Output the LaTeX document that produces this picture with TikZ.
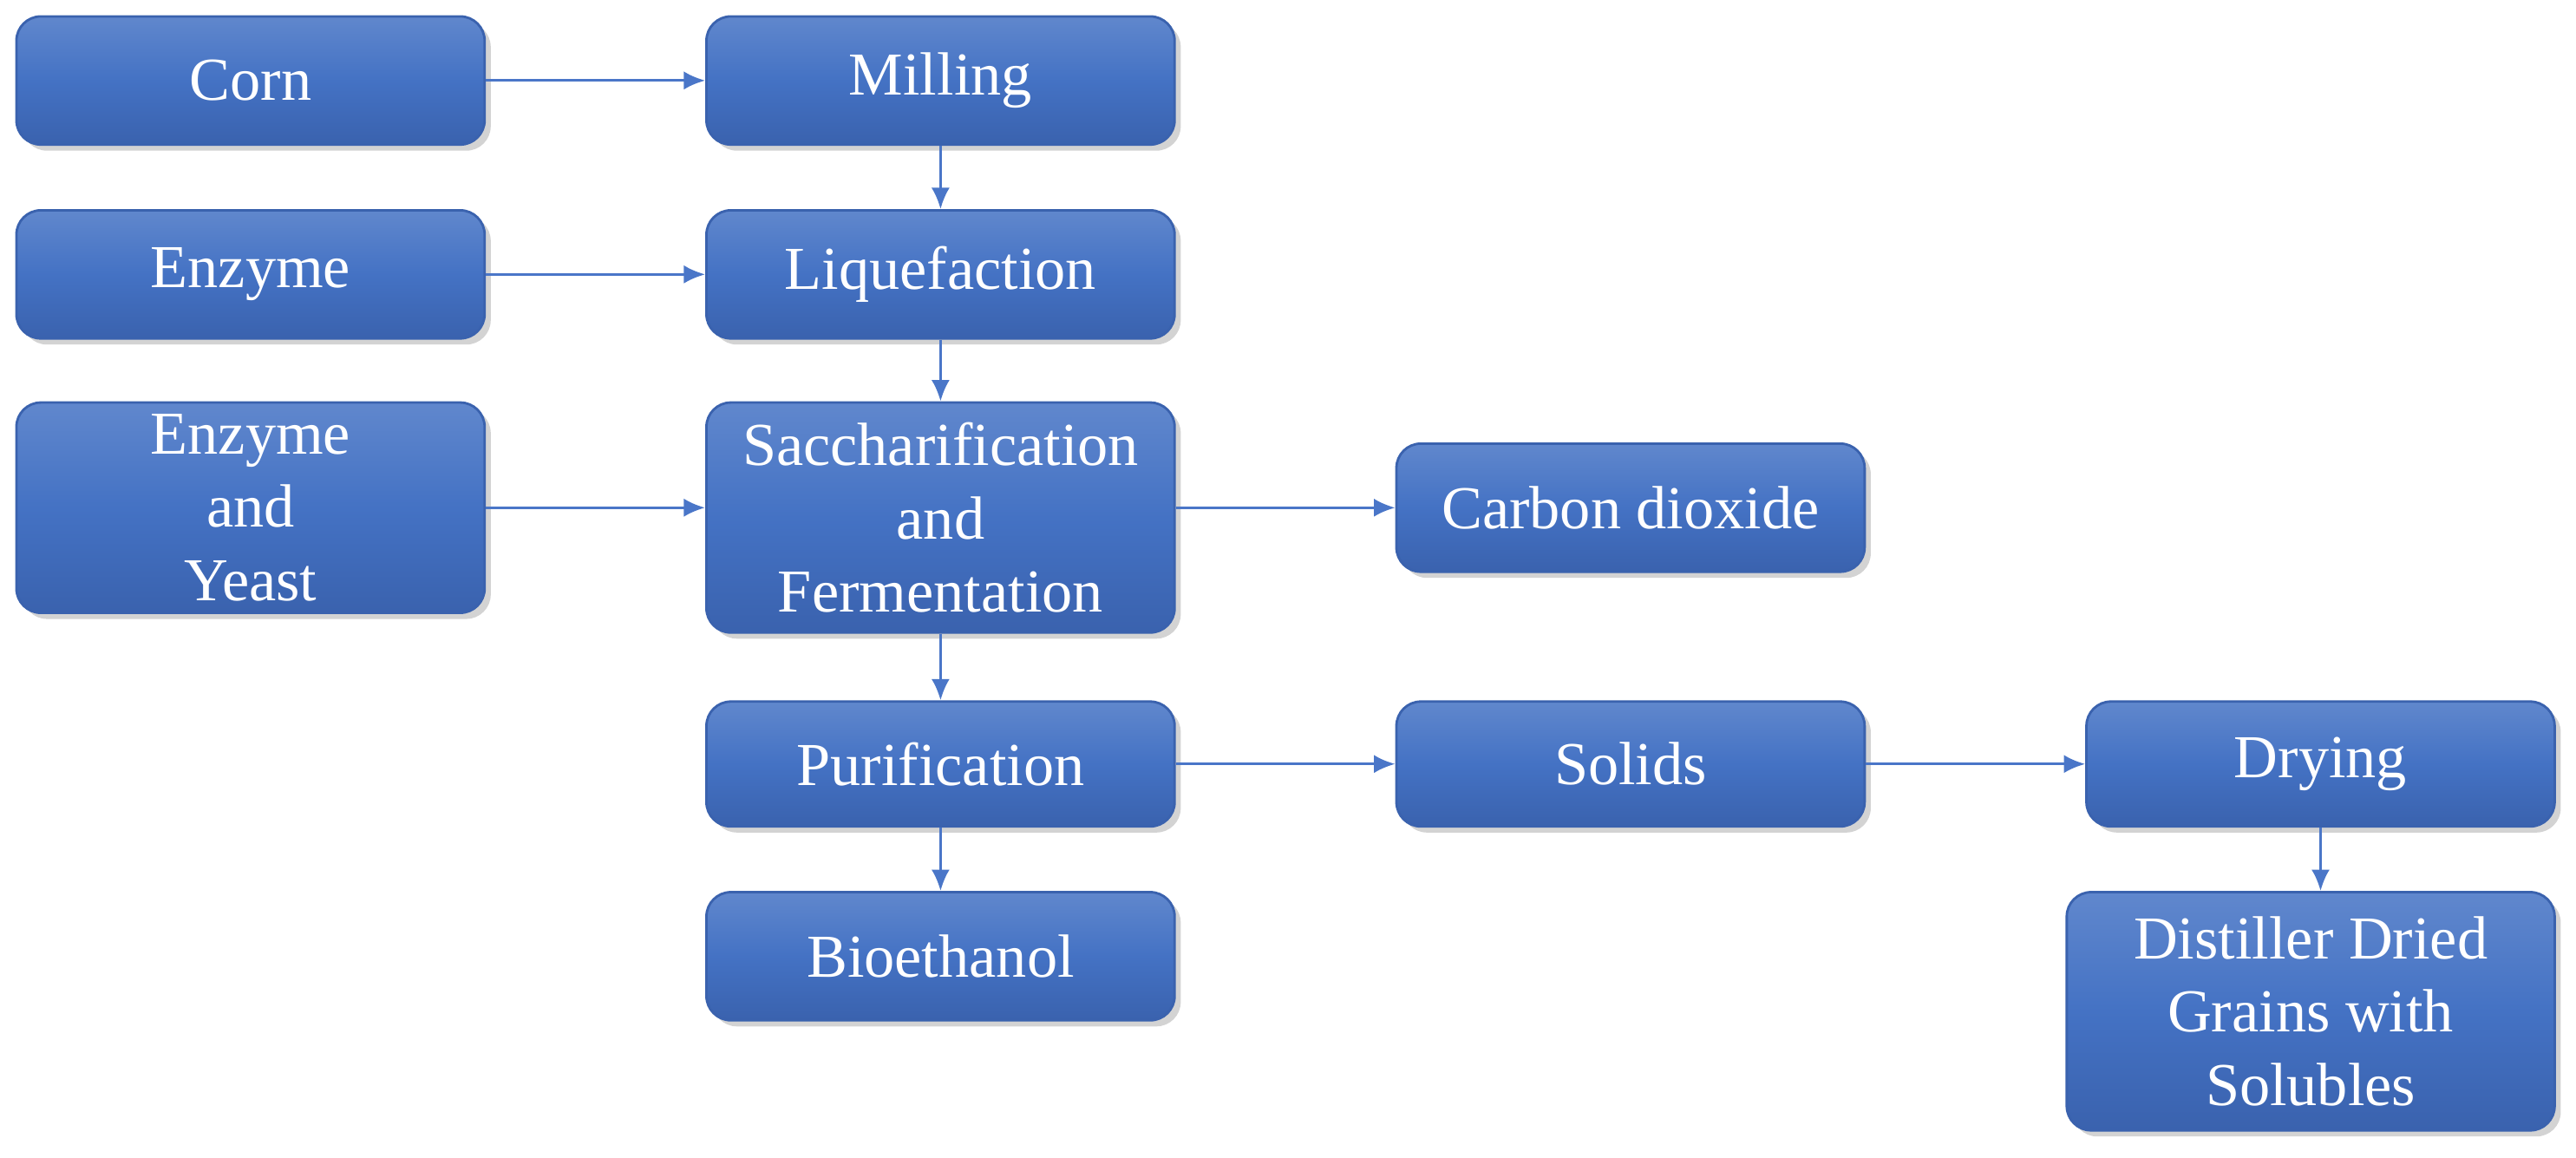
\documentclass[tikz,border=0pt]{standalone}
\usepackage{fontspec}
\setmainfont{Liberation Serif}
\usetikzlibrary{shadows,arrows.meta}
\definecolor{bx}{HTML}{4472C4}
\definecolor{bxd}{HTML}{3A62AE}
\definecolor{ln}{HTML}{4A76C8}
\tikzset{
 bxs/.style={draw=bxd, line width=0.8pt, rounded corners=8pt, top color=bx!85!white, bottom color=bxd, middle color=bx,
   text=white, align=center, font=\fontsize{20}{24}\selectfont, inner sep=0pt,
   drop shadow={shadow xshift=2pt, shadow yshift=-2pt, opacity=0.35}},
 arr/.style={draw=ln, line width=0.9pt, -{Latex[length=7pt,width=6pt]}}
}
\begin{document}
\begin{tikzpicture}[x=0.01894cm,y=-0.01894cm]
\useasboundingbox (0,0) rectangle (1568,704.3);
\newcommand{\bx}[6]{\node[bxs, minimum width={(#4-#2)*0.01894cm}, minimum height={(#5-#3)*0.01894cm}] (#1) at ({(#2+#4)/2},{(#3+#5)/2}) {#6};}
\bx{corn}{10}{10}{295}{88}{Corn}
\bx{mill}{430}{10}{715}{88}{Milling}
\bx{enz}{10}{128}{295}{206}{Enzyme}
\bx{liq}{430}{128}{715}{206}{Liquefaction}
\bx{ey}{10}{245}{295}{373}{Enzyme\\and\\Yeast}
\bx{sac}{430}{245}{715}{385}{Saccharification\\and\\Fermentation}
\bx{co}{850}{270}{1135}{348}{Carbon dioxide}
\bx{pur}{430}{427}{715}{503}{Purification}
\bx{sol}{850}{427}{1135}{503}{Solids}
\bx{dry}{1270}{427}{1555}{503}{Drying}
\bx{bio}{430}{543}{715}{621}{Bioethanol}
\bx{dd}{1258}{543}{1555}{688}{Distiller Dried\\Grains with\\Solubles}
\draw[arr] (corn) -- (mill);
\draw[arr] (enz) -- (liq);
\draw[arr] (ey) -- (ey -| sac.west);
\draw[arr] (sac.east |- co) -- (co);
\draw[arr] (mill) -- (liq);
\draw[arr] (liq) -- (sac);
\draw[arr] (sac) -- (pur);
\draw[arr] (pur) -- (bio);
\draw[arr] (pur) -- (sol);
\draw[arr] (sol) -- (dry);
\draw[arr] (dry) -- (dry |- dd.north);
\end{tikzpicture}
\end{document}
